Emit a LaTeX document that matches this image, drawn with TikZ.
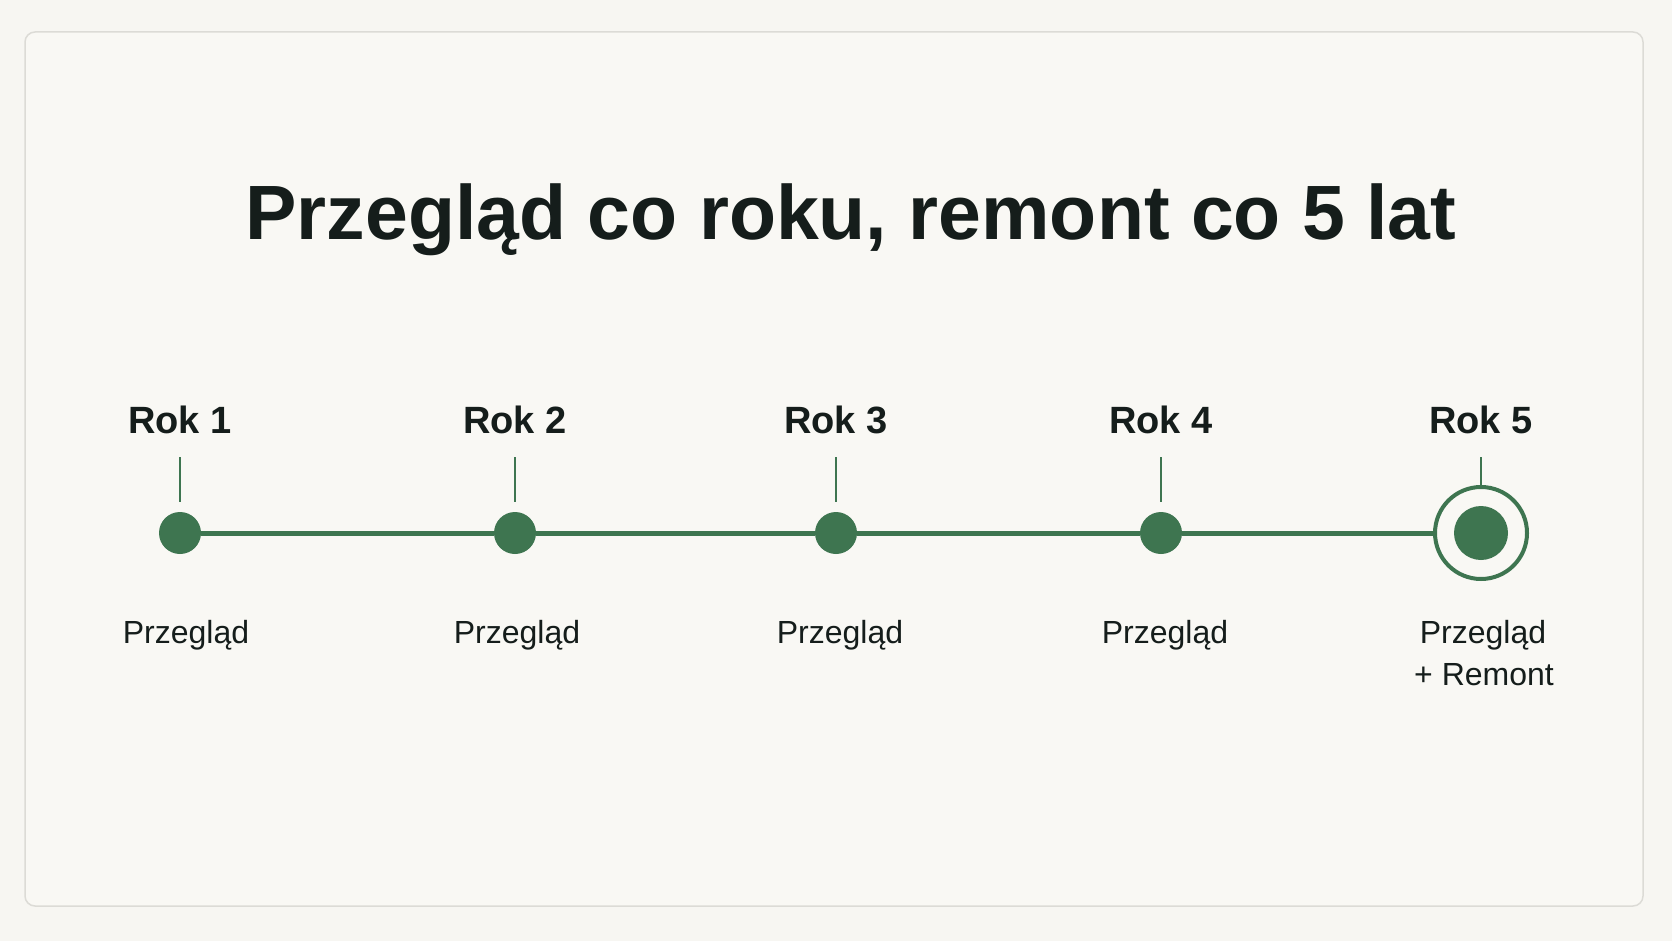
\documentclass[tikz,border=0pt]{standalone}
\usepackage{fontspec}
\setmainfont{Liberation Sans}
\definecolor{bg}{HTML}{F7F6F2}
\definecolor{card}{HTML}{F9F8F4}
\definecolor{cardline}{HTML}{DCDBD6}
\definecolor{grn}{HTML}{3E7550}
\definecolor{ink}{HTML}{151D1B}
\begin{document}
\begin{tikzpicture}[x=1pt,y=-1pt,
  dot/.style={circle,fill=grn,minimum size=42pt,inner sep=0pt},
  ring/.style={circle,draw=grn,line width=4pt,fill=card,minimum size=92pt,inner sep=0pt},
  core/.style={circle,fill=grn,minimum size=54pt,inner sep=0pt},
  axis/.style={draw=grn,line width=5pt},
  tick/.style={draw=grn,line width=2pt},
  yr/.style={anchor=base,text=ink,font=\fontsize{38}{44}\selectfont\bfseries},
  lab/.style={anchor=base,text=ink,font=\fontsize{32}{38}\selectfont},
  ttl/.style={anchor=base,text=ink,font=\fontsize{77}{90}\selectfont\bfseries}]
\useasboundingbox (0,0) rectangle (1672,941);
\fill[bg] (0,0) rectangle (1672,941);
\draw[cardline,line width=1.5pt,rounded corners=10pt,fill=card] (25,32) rectangle (1643,906);

\node[ttl] (title) at (851,240) {Przegląd co roku, remont co 5 lat};

% timeline points
\node[dot] (d1) at (180,533) {};
\node[dot] (d2) at (515,533) {};
\node[dot] (d3) at (836,533) {};
\node[dot] (d4) at (1161,533) {};
\node[ring] (r5) at (1481,533) {};
\node[core] (d5) at (1481,533) {};

\draw[axis] (d1) -- (d2);
\draw[axis] (d2) -- (d3);
\draw[axis] (d3) -- (d4);
\draw[axis] (d4) -- (r5);

% year labels
\node[yr] (k1) at (180,433) {Rok 1};
\node[yr] (k2) at (515,433) {Rok 2};
\node[yr] (k3) at (836,433) {Rok 3};
\node[yr] (k4) at (1161,433) {Rok 4};
\node[yr] (k5) at (1481,433) {Rok 5};

% ticks
\coordinate (t1) at (180,457);
\coordinate (t2) at (515,457);
\coordinate (t3) at (836,457);
\coordinate (t4) at (1161,457);
\coordinate (t5) at (1481,457);
\draw[tick,shorten >=10pt] (t1) -- (d1);
\draw[tick,shorten >=10pt] (t2) -- (d2);
\draw[tick,shorten >=10pt] (t3) -- (d3);
\draw[tick,shorten >=10pt] (t4) -- (d4);
\draw[tick] (t5) -- (r5);

% bottom labels
\node[lab] (p1) at (186,643) {Przegląd};
\node[lab] (p2) at (517,643) {Przegląd};
\node[lab] (p3) at (840,643) {Przegląd};
\node[lab] (p4) at (1165,643) {Przegląd};
\node[lab] (p5) at (1483,643) {Przegląd};
\node[lab] (p5b) at (1484,685) {+ Remont};
\end{tikzpicture}
\end{document}
